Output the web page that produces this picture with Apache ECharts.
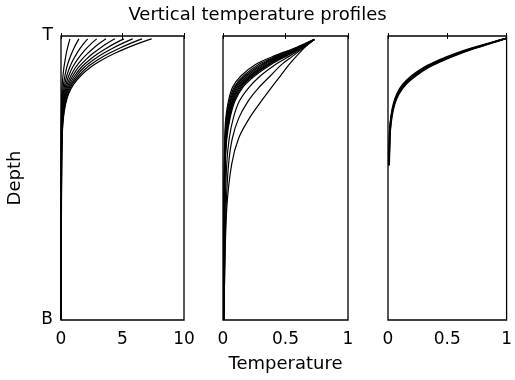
<!DOCTYPE html>
<html><head><meta charset="utf-8">
<script src="https://cdn.jsdelivr.net/npm/echarts@6/dist/echarts.min.js"></script>
<style>html,body{margin:0;padding:0;background:#fff}#c{width:515px;height:380px}</style>
</head><body><div id="c"></div>
<script>
// Panel 1: depth grid and temperature profiles
const depth1 = [0.01, 0.025, 0.042, 0.061, 0.083, 0.11, 0.14, 0.171, 0.204, 0.239, 0.28, 0.333, 0.45, 0.7, 1.0];
const temp1 = [
  [0.73, 0.63, 0.53, 0.43, 0.34, 0.24, 0.16, 0.10, 0.06, 0.04, 0.02, 0.012, 0.006, 0.003, 0.002],
  [1.46, 1.26, 1.06, 0.87, 0.67, 0.47, 0.32, 0.20, 0.12, 0.074, 0.044, 0.023, 0.012, 0.006, 0.004],
  [2.17, 1.87, 1.58, 1.29, 1.0, 0.71, 0.47, 0.30, 0.18, 0.11, 0.065, 0.035, 0.017, 0.009, 0.007],
  [2.90, 2.50, 2.11, 1.72, 1.33, 0.94, 0.63, 0.40, 0.24, 0.15, 0.087, 0.046, 0.023, 0.012, 0.009],
  [3.66, 3.16, 2.66, 2.17, 1.68, 1.19, 0.80, 0.50, 0.30, 0.19, 0.11, 0.059, 0.029, 0.015, 0.011],
  [4.39, 3.79, 3.20, 2.61, 2.02, 1.43, 0.96, 0.60, 0.36, 0.22, 0.13, 0.07, 0.035, 0.018, 0.013],
  [5.12, 4.42, 3.73, 3.04, 2.36, 1.66, 1.12, 0.70, 0.42, 0.26, 0.15, 0.082, 0.041, 0.02, 0.015],
  [5.83, 5.03, 4.24, 3.46, 2.68, 1.89, 1.27, 0.80, 0.48, 0.30, 0.17, 0.093, 0.047, 0.023, 0.017],
  [6.59, 5.69, 4.80, 3.91, 3.03, 2.14, 1.44, 0.90, 0.55, 0.34, 0.20, 0.105, 0.053, 0.026, 0.02],
  [7.37, 6.36, 5.37, 4.38, 3.39, 2.40, 1.61, 1.01, 0.61, 0.38, 0.22, 0.118, 0.059, 0.03, 0.022]
];
// Panel 2
const depth2 = [0.012, 0.04, 0.07, 0.1, 0.14, 0.18, 0.23, 0.29, 0.36, 0.45, 0.6, 0.8, 1.0];
const temp2 = [
  [0.73, 0.59, 0.41, 0.26, 0.145, 0.077, 0.043, 0.022, 0.014, 0.010, 0.008, 0.006, 0.005],
  [0.73, 0.597, 0.43, 0.285, 0.165, 0.09, 0.05, 0.027, 0.016, 0.011, 0.008, 0.006, 0.005],
  [0.73, 0.604, 0.445, 0.305, 0.18, 0.10, 0.057, 0.031, 0.018, 0.012, 0.009, 0.007, 0.005],
  [0.73, 0.61, 0.46, 0.32, 0.195, 0.11, 0.063, 0.035, 0.020, 0.013, 0.009, 0.007, 0.006],
  [0.73, 0.615, 0.47, 0.335, 0.21, 0.12, 0.07, 0.039, 0.022, 0.014, 0.010, 0.007, 0.006],
  [0.73, 0.62, 0.48, 0.35, 0.22, 0.13, 0.076, 0.043, 0.024, 0.015, 0.010, 0.008, 0.006],
  [0.73, 0.625, 0.49, 0.36, 0.23, 0.14, 0.082, 0.047, 0.026, 0.016, 0.011, 0.008, 0.006],
  [0.73, 0.63, 0.50, 0.37, 0.24, 0.15, 0.088, 0.051, 0.028, 0.017, 0.011, 0.008, 0.007],
  [0.73, 0.635, 0.51, 0.385, 0.255, 0.16, 0.095, 0.056, 0.031, 0.018, 0.012, 0.009, 0.007],
  [0.73, 0.642, 0.535, 0.42, 0.30, 0.21, 0.13, 0.082, 0.05, 0.03, 0.018, 0.012, 0.008],
  [0.73, 0.648, 0.56, 0.47, 0.38, 0.29, 0.20, 0.125, 0.075, 0.045, 0.025, 0.014, 0.008],
  [0.73, 0.655, 0.59, 0.53, 0.46, 0.39, 0.305, 0.21, 0.125, 0.07, 0.031, 0.015, 0.008]
];
// Panel 3 (normalized)
const depth3 = [0.008, 0.025, 0.042, 0.061, 0.083, 0.11, 0.14, 0.171, 0.204, 0.239, 0.28, 0.333, 0.39, 0.455];
const temp3 = [
  [1.0, 0.85, 0.708, 0.57, 0.437, 0.303, 0.198, 0.123, 0.074, 0.045, 0.026, 0.013, 0.009, 0.006],
  [1.0, 0.857, 0.72, 0.584, 0.45, 0.316, 0.21, 0.132, 0.08, 0.049, 0.028, 0.015, 0.011, 0.007],
  [1.0, 0.863, 0.728, 0.594, 0.46, 0.325, 0.218, 0.137, 0.083, 0.051, 0.030, 0.016, 0.012, 0.008],
  [1.0, 0.869, 0.737, 0.605, 0.472, 0.336, 0.228, 0.144, 0.088, 0.054, 0.032, 0.018, 0.013, 0.009],
  [1.0, 0.875, 0.746, 0.615, 0.483, 0.347, 0.238, 0.151, 0.093, 0.058, 0.035, 0.02, 0.015, 0.011]
];
const xMax = [10, 1, 1];
const xTicks = [5, 0.5, 0.5];
const yTickLabels = ['T', 'B'];

const FONT = 'DejaVu Sans';
const chart = echarts.init(document.getElementById('c'));
const grids = [
  {left: 61, top: 36, width: 123, height: 284},
  {left: 223, top: 36, width: 125, height: 284},
  {left: 388, top: 36, width: 124, height: 284}
];
const xAxes = [], yAxes = [], series = [];
grids.forEach((g, i) => {
  g.show = true; g.borderColor = '#000'; g.borderWidth = 1.3; g.containLabel = false;
  xAxes.push({
    type: 'value', gridIndex: i, min: 0, max: xMax[i], interval: xTicks[i], position: 'bottom',
    axisLine: {show: false}, splitLine: {show: false},
    axisTick: {show: true, inside: true, length: 3, lineStyle: {color: '#000'}},
    axisLabel: {color: '#000', fontFamily: FONT, fontSize: 17, margin: 11},
    name: i === 1 ? 'Temperature' : '', nameLocation: 'middle', nameGap: 35,
    nameTextStyle: {color: '#000', fontFamily: FONT, fontSize: 18}
  });
  xAxes.push({
    type: 'value', gridIndex: i, min: 0, max: xMax[i], interval: xTicks[i], position: 'top',
    axisLine: {show: false}, splitLine: {show: false}, axisLabel: {show: false},
    axisTick: {show: true, inside: true, length: 3, lineStyle: {color: '#000'}}
  });
  yAxes.push({
    type: 'value', gridIndex: i, min: 0, max: 1, interval: 1, inverse: true,
    axisLine: {show: false}, splitLine: {show: false}, axisTick: {show: false},
    axisLabel: {show: i === 0, color: '#000', fontFamily: FONT, fontSize: 17, margin: 8,
      formatter: v => v === 0 ? yTickLabels[0] : (v === 1 ? yTickLabels[1] : '')},
    name: i === 0 ? 'Depth' : '', nameLocation: 'middle', nameGap: 37, nameRotate: 90,
    nameTextStyle: {color: '#000', fontFamily: FONT, fontSize: 18}
  });
});
function addSeries(depths, temps, gi, w) {
  temps.forEach(t => {
    series.push({
      type: 'line', xAxisIndex: gi * 2, yAxisIndex: gi, showSymbol: false, symbol: 'none',
      smooth: 0.3, lineStyle: {color: '#000', width: w}, animation: false, silent: true,
      data: t.map((v, j) => [v, depths[j]])
    });
  });
}
addSeries(depth1, temp1, 0, 1.2);
addSeries(depth2, temp2, 1, 1.2);
addSeries(depth3, temp3, 2, 1.4);

chart.setOption({
  animation: false,
  title: {text: 'Vertical temperature profiles', left: 'center', top: 1,
    textStyle: {color: '#000', fontFamily: FONT, fontSize: 18, fontWeight: 'normal'}},
  grid: grids, xAxis: xAxes, yAxis: yAxes, series: series
});
</script></body></html>
